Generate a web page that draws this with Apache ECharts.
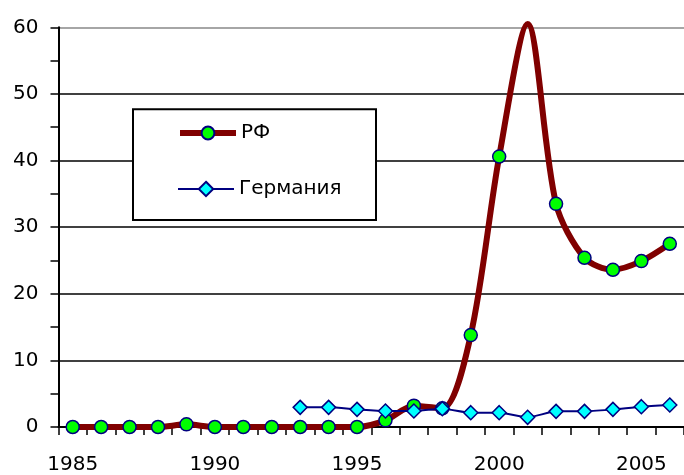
<!DOCTYPE html>
<html>
<head>
<meta charset="utf-8">
<script src="https://cdn.jsdelivr.net/npm/echarts@6/dist/echarts.min.js"></script>
<style>html,body{margin:0;padding:0;background:#fff}#c{width:684px;height:475px}</style>
</head>
<body>
<div id="c"></div>
<script>
const years = ['1985','1986','1987','1988','1989','1990','1991','1992','1993','1994','1995','1996','1997','1998','1999','2000','2001','2002','2003','2004','2005','2006'];
const rfValues = [0, 0, 0, 0, 0.4, 0, 0, 0, 0, 0, 0, 1.0, 3.2, 2.8, 13.8, 40.6, 60.5, 33.5, 25.4, 23.6, 24.9, 27.5];
const deValues = [null, null, null, null, null, null, null, null, 2.95, 2.95, 2.65, 2.4, 2.4, 2.75, 2.15, 2.15, 1.45, 2.35, 2.35, 2.65, 3.05, 3.3];
const yTicks = [0, 10, 20, 30, 40, 50, 60];
const shownYears = ['1985','1990','1995','2000','2005'];
const rfName = 'РФ';
const deName = 'Германия';
const noMarkerYears = ['2001'];

const FONT = '"DejaVu Sans", Arial, sans-serif';
const chart = echarts.init(document.getElementById('c'), null, {renderer: 'canvas'});

const rfData = rfValues.map((v, i) => noMarkerYears.includes(years[i]) ? {value: v, symbol: 'none'} : v);

chart.setOption({
  animation: false,
  backgroundColor: '#fff',
  grid: {left: 58.5, top: 27.3, right: -4.5, bottom: 47.3, containLabel: false},
  xAxis: {
    type: 'category',
    data: years,
    boundaryGap: true,
    axisLine: {lineStyle: {color: '#000', width: 2}},
    axisTick: {show: true, interval: 0, length: 8, lineStyle: {color: '#000', width: 1.5}},
    axisLabel: {
      interval: 0,
      margin: 28,
      color: '#000',
      fontFamily: FONT,
      fontSize: 20,
      formatter: v => shownYears.includes(v) ? v : ''
    },
    splitLine: {show: false}
  },
  yAxis: {
    type: 'value',
    min: yTicks[0],
    max: yTicks[yTicks.length - 1],
    interval: 10,
    axisLine: {show: true, lineStyle: {color: '#000', width: 2}},
    axisTick: {show: true, length: 8, lineStyle: {color: '#000', width: 1.5}},
    minorTick: {show: true, splitNumber: 2, length: 8, lineStyle: {color: '#000', width: 1.5}},
    axisLabel: {margin: 20, color: '#000', fontFamily: FONT, fontSize: 20},
    splitLine: {show: true, lineStyle: {color: ['#000','#000','#000','#000','#000','#000','#888'], width: 1.5}}
  },
  legend: [
    {
      data: [rfName], left: 177, top: 123, orient: 'vertical',
      itemWidth: 56, itemHeight: 16, padding: 0,
      lineStyle: {width: 6},
      textStyle: {color: '#000', fontFamily: FONT, fontSize: 20},
      selectedMode: false
    },
    {
      data: [deName], left: 177, top: 179, orient: 'vertical',
      itemWidth: 56, itemHeight: 18, padding: 0,
      lineStyle: {width: 2},
      textStyle: {color: '#000', fontFamily: FONT, fontSize: 20},
      selectedMode: false
    }
  ],
  graphic: [
    {type: 'rect', z: 3, shape: {x: 133, y: 109.3, width: 243, height: 110.7},
     style: {fill: '#fff', stroke: '#000', lineWidth: 2}}
  ],
  series: [
    {
      name: rfName,
      type: 'line',
      data: rfData,
      smooth: 0.3,
      clip: false,
      symbol: 'circle',
      symbolSize: 13,
      z: 2,
      lineStyle: {color: '#800000', width: 6},
      itemStyle: {color: '#00ff00', borderColor: '#000080', borderWidth: 1.5}
    },
    {
      name: deName,
      type: 'line',
      data: deValues,
      smooth: 0.2,
      clip: false,
      symbol: 'diamond',
      symbolSize: 14,
      z: 3,
      lineStyle: {color: '#000080', width: 2},
      itemStyle: {color: '#00ffff', borderColor: '#000080', borderWidth: 1.5}
    }
  ]
});
</script>
</body>
</html>
